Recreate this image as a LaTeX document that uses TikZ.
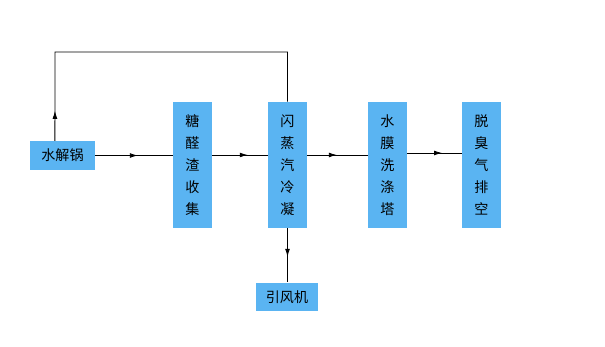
\documentclass[tikz,border=0pt]{standalone}
\usepackage{fontspec}
\newfontfamily\cjk{Noto Sans CJK SC}
\usetikzlibrary{arrows.meta,decorations.markings}
\definecolor{boxblue}{HTML}{5AB4F2}

\begin{document}
\begin{tikzpicture}[x=0.025cm, y=-0.025cm,
    tallBox/.style={rectangle, fill=boxblue, minimum width=0.975cm, minimum height=3.15cm, inner sep=0pt, align=center, font=\cjk\fontsize{10}{15.6}\selectfont},
    wideBox/.style={rectangle, fill=boxblue, minimum height=0.72cm, inner sep=0pt, font=\cjk\fontsize{10}{12}\selectfont},
    flowLine/.style={line width=0.6pt, draw=black},
    midArrow/.style={flowLine, postaction={decorate}, decoration={markings, mark=at position #1 with {\arrow{Latex[length=2mm,width=1.2mm]}}}},
    midArrow/.default=0.55
]
    \useasboundingbox (0,0) rectangle (605,347);

    \node[wideBox, minimum width=1.625cm] (hydro) at (62.5,155.5) {水解锅};
    \node[tallBox] (residue) at (192.5,165) {糖\\醛\\渣\\收\\集};
    \node[tallBox] (flash) at (287.5,165) {闪\\蒸\\汽\\冷\\凝};
    \node[tallBox] (scrub) at (387.5,165) {水\\膜\\洗\\涤\\塔};
    \node[tallBox] (vent) at (481.5,165) {脱\\臭\\气\\排\\空};
    \node[wideBox, minimum width=1.55cm] (fan) at (287,297) {引风机};
    \coordinate (loopTop) at (55,52);

    \draw[midArrow=0.55] (hydro.east) -- (hydro.east -| residue.west);
    \draw[midArrow=0.64] ([yshift=0.25cm]residue.east) -- ([yshift=0.25cm]flash.west);
    \draw[midArrow=0.49] ([yshift=0.25cm]flash.east) -- ([yshift=0.25cm]scrub.west);
    \draw[midArrow=0.64] ([yshift=0.3cm]scrub.east) -- ([yshift=0.3cm]vent.west);
    \draw[midArrow=0.53] (flash.south) -- (flash.south |- fan.north);
    \draw[midArrow=0.081] ([xshift=-0.19cm]hydro.north) -- (loopTop) -| (flash.north);
\end{tikzpicture}
\end{document}
